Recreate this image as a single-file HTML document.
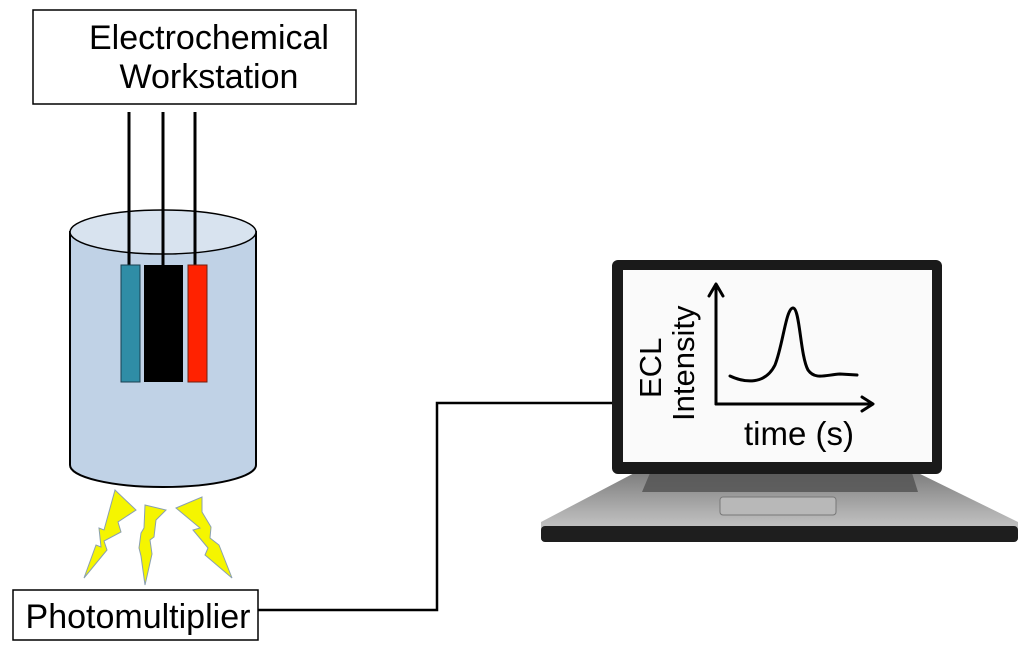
<!DOCTYPE html>
<html><head><meta charset="utf-8"><style>html,body{margin:0;padding:0;background:#fff}svg{display:block}</style></head>
<body>
<svg width="1024" height="656" viewBox="0 0 1024 656" xmlns="http://www.w3.org/2000/svg" font-family="Liberation Sans, sans-serif">
<defs>
<linearGradient id="base" x1="0" y1="0" x2="0" y2="1"><stop offset="0" stop-color="#7a7a7a"/><stop offset="0.6" stop-color="#b0b0b0"/><stop offset="1" stop-color="#d0d0d0"/></linearGradient>
</defs>
<rect x="33" y="10" width="323" height="94" fill="#fff" stroke="#000" stroke-width="1.5"/>
<text x="209" y="49" font-size="34" text-anchor="middle">Electrochemical</text>
<text x="209" y="88" font-size="34" text-anchor="middle">Workstation</text>
<!-- cylinder -->
<path d="M70 232 L70 465 A93 22 0 0 0 256 465 L256 232 Z" fill="#c0d2e6" stroke="#000" stroke-width="2"/>
<ellipse cx="163" cy="232" rx="93" ry="22" fill="#d8e3ef" stroke="#000" stroke-width="1.5"/>
<line x1="129" y1="112" x2="129" y2="266" stroke="#000" stroke-width="3"/>
<line x1="163" y1="112" x2="163" y2="266" stroke="#000" stroke-width="3"/>
<line x1="195" y1="112" x2="195" y2="266" stroke="#000" stroke-width="3"/>
<rect x="121" y="265" width="19" height="117" fill="#2f8da6" stroke="#1a4050"/>
<rect x="144" y="265" width="39" height="117" fill="#000"/>
<rect x="188" y="265" width="19" height="117" fill="#ff2200" stroke="#702010"/>
<!-- bolts -->
<g fill="#f5f500" stroke="#8aa0b0" stroke-width="1">
<polygon points="115,490 136,510 118,522 121,532 104,541 107,550 84,578 96,545 101,547 99,528 104,530 "/>
<polygon points="145,505 166,510 156,520 154,537 150,540 152,554 145,585 141,556 139,548 141,533 144,528"/>
<polygon points="176,508 202,497 202,512 211,527 210,538 219,545 232,578 205,555 208,548 193,530 200,528"/>
</g>
<rect x="13" y="590" width="245" height="50" fill="#fff" stroke="#000" stroke-width="1.5"/>
<text x="138" y="628" font-size="34" text-anchor="middle">Photomultiplier</text>
<polyline points="258,610 437,610 437,403 614,403" fill="none" stroke="#000" stroke-width="2.5"/>
<!-- laptop -->
<path d="M640 470 L912 470 L1018 522 L1018 540 L541 540 L541 522 Z" fill="url(#base)"/>
<rect x="541" y="526" width="477" height="16" rx="4" fill="#1e1e1e"/>
<polygon points="650,473 912,473 918,492 642,492" fill="#555" opacity="0.85"/>
<rect x="720" y="497" width="116" height="18" rx="3" fill="#b8b8b8" stroke="#777"/>
<rect x="612" y="260" width="330" height="214" rx="6" fill="#1a1a1a"/>
<rect x="623" y="270" width="309" height="192" fill="#fafafa"/>
<!-- graph -->
<g stroke="#000" stroke-width="3" fill="none" stroke-linecap="round" stroke-linejoin="round">
<line x1="716" y1="286" x2="716" y2="404"/>
<polyline points="709,296 716,284 723,296"/>
<line x1="716" y1="404" x2="872" y2="404"/>
<polyline points="862,397 873,404 862,411"/>
<path d="M730 376 C745 383 765 385 775 365 C783 345 786 308 793 308 C800 308 800 355 808 370 C815 380 825 375 840 374 L857 375"/>
</g>
<text transform="translate(661,398) rotate(-90)" font-size="31">ECL</text>
<text transform="translate(694,421) rotate(-90)" font-size="31">Intensity</text>
<text x="744" y="445" font-size="33">time (s)</text>
</svg>
</body></html>
